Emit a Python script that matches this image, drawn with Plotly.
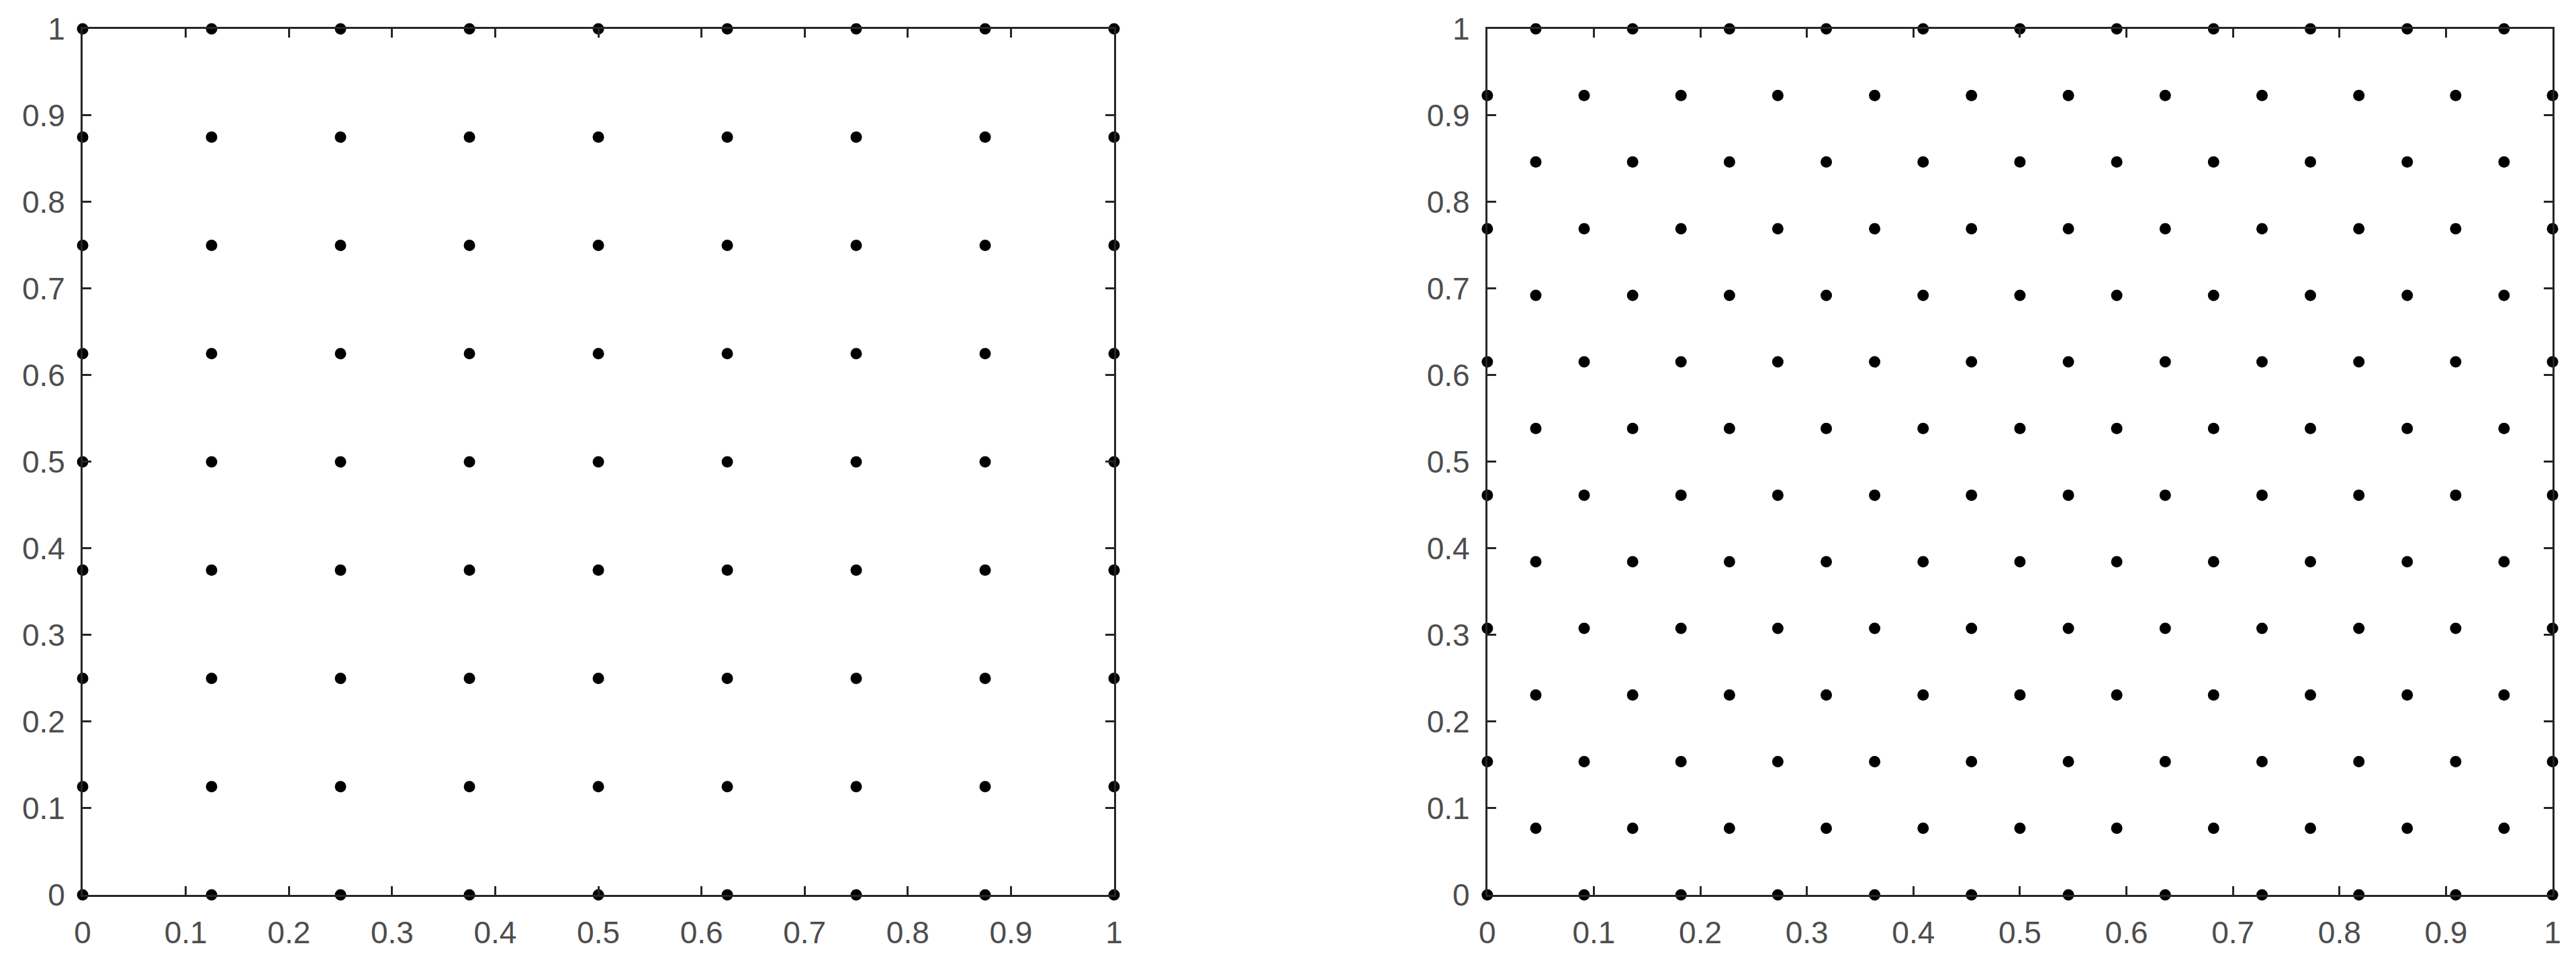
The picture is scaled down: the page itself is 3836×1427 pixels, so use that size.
import plotly.graph_objects as go

# square grid (left panel)
grid_vals = [0, 0.125, 0.25, 0.375, 0.5, 0.625, 0.75, 0.875, 1]

# hexagonal lattice (right panel)
hex_x_even = [0, 0.0909, 0.1818, 0.2727, 0.3636, 0.4545, 0.5455, 0.6364, 0.7273, 0.8182, 0.9091, 1]
hex_x_odd = [0.0455, 0.1364, 0.2273, 0.3182, 0.4091, 0.5, 0.5909, 0.6818, 0.7727, 0.8636, 0.9545]
hex_y_even = [0, 0.1538, 0.3077, 0.4615, 0.6154, 0.7692, 0.9231]
hex_y_odd = [0.0769, 0.2308, 0.3846, 0.5385, 0.6923, 0.8462, 1]

tick_vals = [0, 0.1, 0.2, 0.3, 0.4, 0.5, 0.6, 0.7, 0.8, 0.9, 1]
tick_text = ['0', '0.1', '0.2', '0.3', '0.4', '0.5', '0.6', '0.7', '0.8', '0.9', '1']

sq_x = [x for y in grid_vals for x in grid_vals]
sq_y = [y for y in grid_vals for x in grid_vals]

hx, hy = [], []
for y in hex_y_even:
    hx += hex_x_even
    hy += [y] * len(hex_x_even)
for y in hex_y_odd:
    hx += hex_x_odd
    hy += [y] * len(hex_x_odd)

dot = dict(color='black', size=17)

fig = go.Figure()
fig.add_trace(go.Scatter(x=sq_x, y=sq_y, mode='markers', marker=dot,
                         cliponaxis=False, xaxis='x', yaxis='y'))
fig.add_trace(go.Scatter(x=hx, y=hy, mode='markers', marker=dot,
                         cliponaxis=False, xaxis='x2', yaxis='y2'))

axis_style = dict(
    range=[0, 1],
    tickvals=tick_vals,
    ticktext=tick_text,
    ticks='inside',
    ticklen=13,
    tickwidth=3,
    tickcolor='#262626',
    showline=True,
    linecolor='#262626',
    linewidth=3,
    mirror='ticks',
    showgrid=False,
    zeroline=False,
    automargin=False,
    tickfont=dict(family='Liberation Sans, Arial', size=46, color='#4d4d4d'),
    fixedrange=True,
)

fig.update_layout(
    width=3836, height=1427,
    margin=dict(l=0, r=0, t=0, b=0),
    paper_bgcolor='white',
    plot_bgcolor='white',
    showlegend=False,
    xaxis=dict(domain=[0.0300, 0.4304], anchor='y', ticklabelstandoff=14, **axis_style),
    yaxis=dict(domain=[0.0715, 0.9755], anchor='x', ticklabelstandoff=14, **axis_style),
    xaxis2=dict(domain=[0.5753, 0.9888], anchor='y2', ticklabelstandoff=14, **axis_style),
    yaxis2=dict(domain=[0.0715, 0.9755], anchor='x2', ticklabelstandoff=14, **axis_style),
)

fig.write_html("out.html")
